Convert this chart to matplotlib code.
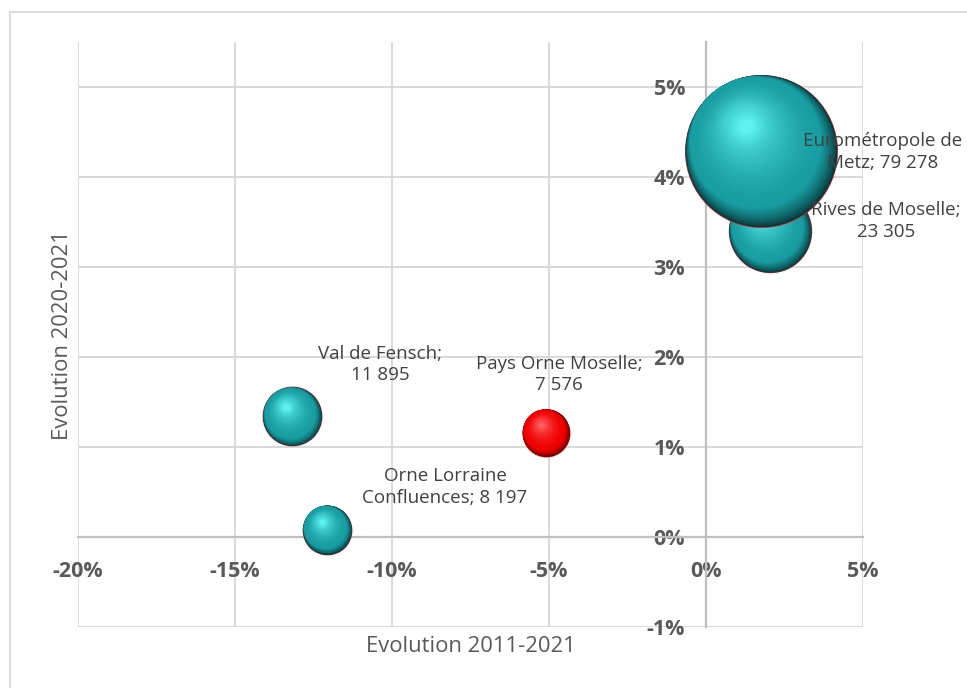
import numpy as np
import matplotlib
matplotlib.use("Agg")
import matplotlib.pyplot as plt
from matplotlib.transforms import offset_copy
from matplotlib.patches import Rectangle
from matplotlib.colors import to_rgb

# ---- data ----
label_names = ["Eurométropole de\nMetz; ", "Rives de Moselle;\n", "Val de Fensch;\n",
               "Pays Orne Moselle;\n", "Orne Lorraine\nConfluences; "]
evol_2011_2021 = [1.75, 2.04, -13.18, -5.10, -12.07]   # %
evol_2020_2021 = [4.29, 3.40, 1.34, 1.16, 0.08]        # %
population = [79278, 23305, 11895, 7576, 8197]
highlight = [False, False, False, True, False]
xticks = [-20, -15, -10, -5, 0, 5]
yticks = [-1, 0, 1, 2, 3, 4, 5]

# ---- style ----
DPI = 100
fig = plt.figure(figsize=(9.67, 6.88), dpi=DPI)
ax = fig.add_axes([78/967, 1-627/688, (863-78)/967, (627-42)/688])
ax.set_xlim(-20, 5)
ax.set_ylim(-1, 5.5)
ax.set_xticks(xticks)
ax.set_yticks(yticks)
ax.set_xticklabels([f"{v}%" for v in xticks])
ax.set_yticklabels([f"{v}%" for v in yticks])
ax.grid(True, color="#d9d9d9", lw=1.4, zorder=0)
ax.set_axisbelow(True)
for s in ["top", "right"]:
    ax.spines[s].set_visible(False)
ax.spines["bottom"].set_position(("data", 0))
ax.spines["left"].set_position(("data", 0))
for s in ["bottom", "left"]:
    ax.spines[s].set_color("#bfbfbf")
    ax.spines[s].set_linewidth(1.6)
    ax.spines[s].set_zorder(1)
ax.tick_params(axis="x", length=0, pad=17)
ax.tick_params(axis="y", length=0, pad=15)
for lab in ax.get_xticklabels() + ax.get_yticklabels():
    lab.set_fontfamily("Open Sans")
    lab.set_fontweight("bold")
    lab.set_fontsize(15.5)
    lab.set_color("#595959")

fig.text(471/967, 1-646/688, "Evolution 2011-2021", ha="center", va="center",
         fontsize=15.8, family="Open Sans", color="#595959")
fig.text(62/967, 1-335/688, "Evolution 2020-2021", ha="center", va="center",
         rotation=90, fontsize=15.8, family="Open Sans", color="#595959")

fig.patches.append(Rectangle((10/967, -0.05), 1.0, 1-12/688+0.05, transform=fig.transFigure,
                             fill=False, edgecolor="#d9d9d9", lw=1.3))

def mix(c0, c1, u):
    a, b = np.array(to_rgb(c0)), np.array(to_rgb(c1))
    return tuple(np.clip(a + (b - a) * u, 0, 1))

teal = dict(dark="#062e31", body="#189ea2", light="#5ef2f2")
red = dict(dark="#5e0000", body="#f00000", light="#ff6060")

RMAX = 76  # px radius of largest bubble
ux, uy = -0.55, 0.835  # direction of light (up-left)
hx, hy = -0.2, 0.33    # highlight position (fraction of radius)
draw_order = [1, 0, 2, 3, 4]
for i in draw_order:
    x, y = evol_2011_2021[i], evol_2020_2021[i]
    r = RMAX * np.sqrt(population[i] / max(population)) * 72 / DPI
    pal = red if highlight[i] else teal
    z = 3.5 if i == 0 else 3 + i * 0.01
    ax.scatter([x], [y], s=(2 * r) ** 2, color=pal["dark"], edgecolors="#d42a2a",
               linewidths=0.7, zorder=z)
    layers = []
    # phase 1: dark rim on the lower-right side
    n1 = 30
    for k in range(1, n1 + 1):
        t = k / n1
        rr = r * (1 - 0.14 * t)
        d = r - rr
        col = mix(pal["dark"], pal["body"], t ** 0.7)
        layers.append((rr, ux * d, uy * d, col))
    r1, ox1, oy1 = layers[-1][0], layers[-1][1], layers[-1][2]
    # phase 2: soft highlight
    n2 = 40
    for k in range(1, n2 + 1):
        t = k / n2
        rr = r1 * (1 - 0.9 * t)
        ox = ox1 + (hx * r - ox1) * min(1, t * 1.4)
        oy = oy1 + (hy * r - oy1) * min(1, t * 1.4)
        col = mix(pal["body"], pal["light"], t ** 1.7)
        layers.append((rr, ox, oy, col))
    for k, (rr, ox, oy, col) in enumerate(layers):
        tr = offset_copy(ax.transData, fig=fig, x=ox, y=oy, units="points")
        ax.scatter([x], [y], s=(2 * rr) ** 2, color=col, linewidths=0,
                   transform=tr, zorder=z + 0.0001 * (k + 1))

# labels (offsets in pixels from bubble centre)
label_offsets = [(122, 1), (116, -10), (88, -52), (13, -58), (118, -43)]
for i in range(len(label_names)):
    txt = f"{label_names[i]}{population[i]:,}".replace(",", " ")
    dx, dy = label_offsets[i]
    ax.annotate(txt, (evol_2011_2021[i], evol_2020_2021[i]),
                xytext=(dx * 72 / DPI, -dy * 72 / DPI), textcoords="offset points",
                ha="center", va="center", fontsize=13.5, family="Open Sans",
                color="#404040", zorder=10, linespacing=1.25)

fig.savefig("out.png", dpi=DPI)
